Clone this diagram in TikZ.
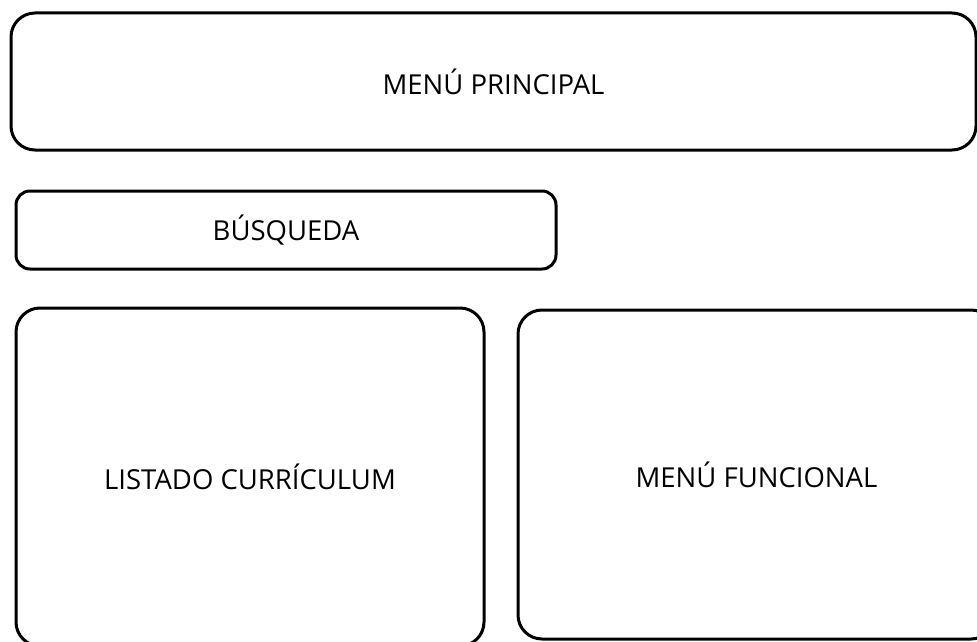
\documentclass[tikz,border=0pt]{standalone}
\usepackage{fontspec}
\setmainfont{Open Sans}
\usepackage{tikz}
\begin{document}
\begin{tikzpicture}[x=1pt,y=-1pt,
    bloc/.style={draw, line width=3pt, rounded corners=24pt, inner sep=0pt,
                 font=\fontsize{27.5}{32}\selectfont},
    petitbloc/.style={bloc, rounded corners=14pt}]
            \clip (0,0) rectangle (977,642); % cadre de la figure
            \node[bloc, minimum width=965pt, minimum height=137pt] (principal) at (493.5,81.5) {MENÚ PRINCIPAL};
            \node[petitbloc, minimum width=540pt, minimum height=78pt] (busqueda) at (286,230) {BÚSQUEDA};
            \node[bloc, minimum width=468pt, minimum height=338pt] (listado) at (250,477) {LISTADO CURRÍCULUM};
            \node[bloc, minimum width=477pt, minimum height=329pt] (funcional) at (756.5,474.5) {MENÚ FUNCIONAL};
        \end{tikzpicture}
\end{document}
